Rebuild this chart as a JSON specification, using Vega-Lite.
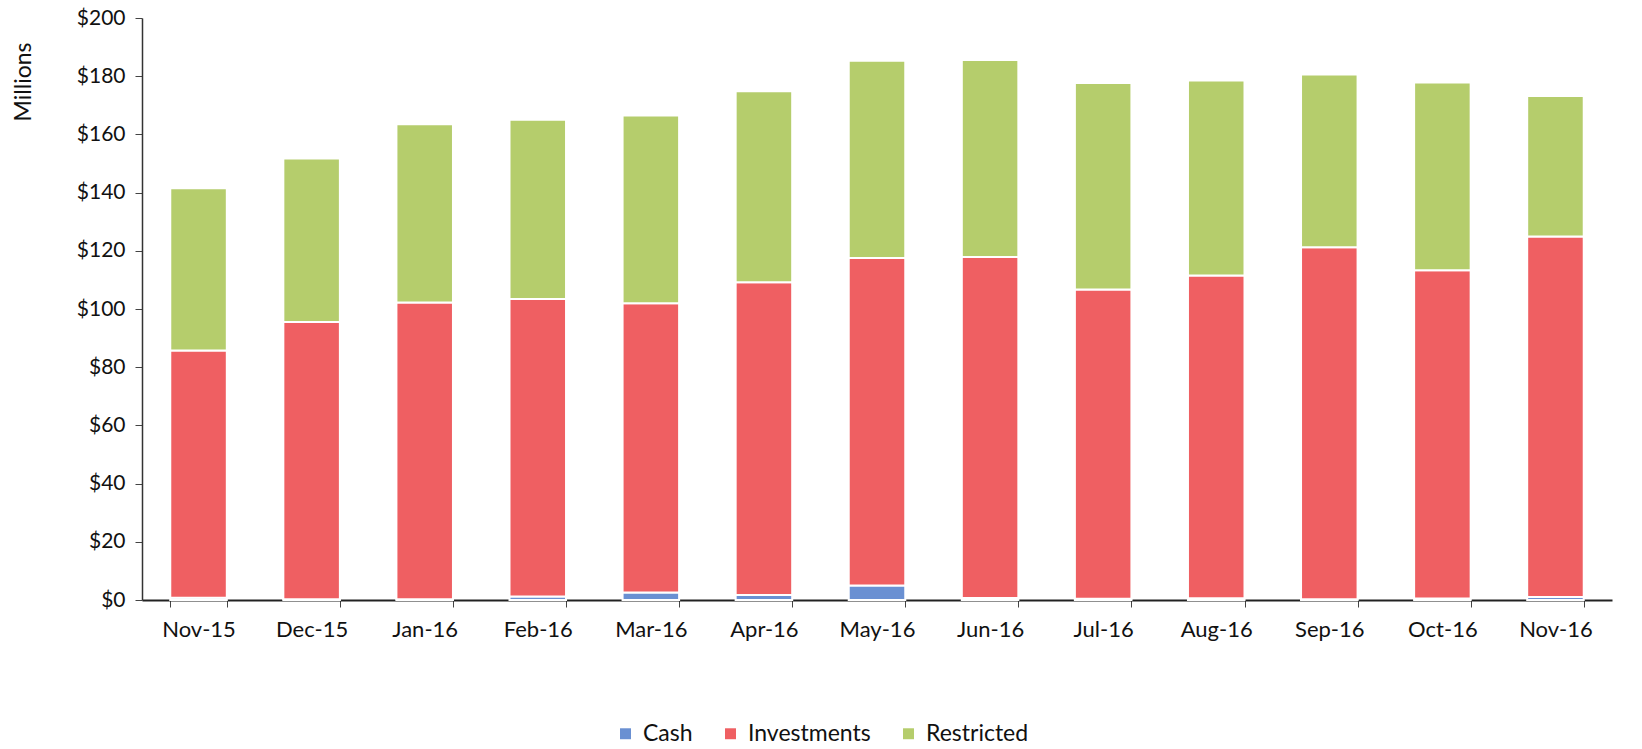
{
  "$schema": "https://vega.github.io/schema/vega-lite/v6.json",
  "width": 1470,
  "height": 582,
  "autosize": {"type": "none"},
  "padding": {"left": 142, "top": 18, "right": 30, "bottom": 149},
  "background": "white",
  "config": {
    "font": "Lato",
    "view": {"stroke": null}
  },
  "data": {
    "values": [
      {"month": "Nov-15", "category": "Cash", "value": 0.8},
      {"month": "Nov-15", "category": "Investments", "value": 84.9},
      {"month": "Nov-15", "category": "Restricted", "value": 55.8},
      {"month": "Dec-15", "category": "Cash", "value": 0.3},
      {"month": "Dec-15", "category": "Investments", "value": 95.2},
      {"month": "Dec-15", "category": "Restricted", "value": 56.2},
      {"month": "Jan-16", "category": "Cash", "value": 0.3},
      {"month": "Jan-16", "category": "Investments", "value": 101.9},
      {"month": "Jan-16", "category": "Restricted", "value": 61.3},
      {"month": "Feb-16", "category": "Cash", "value": 1.2},
      {"month": "Feb-16", "category": "Investments", "value": 102.2},
      {"month": "Feb-16", "category": "Restricted", "value": 61.6},
      {"month": "Mar-16", "category": "Cash", "value": 2.6},
      {"month": "Mar-16", "category": "Investments", "value": 99.4},
      {"month": "Mar-16", "category": "Restricted", "value": 64.5},
      {"month": "Apr-16", "category": "Cash", "value": 1.7},
      {"month": "Apr-16", "category": "Investments", "value": 107.5},
      {"month": "Apr-16", "category": "Restricted", "value": 65.6},
      {"month": "May-16", "category": "Cash", "value": 5.0},
      {"month": "May-16", "category": "Investments", "value": 112.5},
      {"month": "May-16", "category": "Restricted", "value": 67.8},
      {"month": "Jun-16", "category": "Cash", "value": 0.7},
      {"month": "Jun-16", "category": "Investments", "value": 117.2},
      {"month": "Jun-16", "category": "Restricted", "value": 67.7},
      {"month": "Jul-16", "category": "Cash", "value": 0.4},
      {"month": "Jul-16", "category": "Investments", "value": 106.3},
      {"month": "Jul-16", "category": "Restricted", "value": 71.0},
      {"month": "Aug-16", "category": "Cash", "value": 0.6},
      {"month": "Aug-16", "category": "Investments", "value": 110.9},
      {"month": "Aug-16", "category": "Restricted", "value": 67.0},
      {"month": "Sep-16", "category": "Cash", "value": 0.3},
      {"month": "Sep-16", "category": "Investments", "value": 120.9},
      {"month": "Sep-16", "category": "Restricted", "value": 59.4},
      {"month": "Oct-16", "category": "Cash", "value": 0.5},
      {"month": "Oct-16", "category": "Investments", "value": 112.8},
      {"month": "Oct-16", "category": "Restricted", "value": 64.5},
      {"month": "Nov-16", "category": "Cash", "value": 1.0},
      {"month": "Nov-16", "category": "Investments", "value": 123.9},
      {"month": "Nov-16", "category": "Restricted", "value": 48.3}
    ]
  },
  "transform": [
    {"calculate": "indexof(['Cash','Investments','Restricted'], datum.category)", "as": "stackOrder"}
  ],
  "mark": {"type": "bar", "stroke": "white", "strokeWidth": 2},
  "encoding": {
    "x": {
      "field": "month",
      "type": "nominal",
      "sort": null,
      "scale": {"paddingInner": 0.5, "paddingOuter": 0.25},
      "axis": {
        "title": null,
        "labelAngle": 0,
        "labelFontSize": 22,
        "labelColor": "#111",
        "labelPadding": 12,
        "domainColor": "#222",
        "domainWidth": 2,
        "tickColor": "#444",
        "tickBand": "extent",
        "tickSize": 7
      }
    },
    "y": {
      "field": "value",
      "type": "quantitative",
      "stack": "zero",
      "scale": {"domain": [0, 200], "nice": false},
      "axis": {
        "title": "Millions",
        "titleFontSize": 23,
        "titleFontWeight": "normal",
        "titleColor": "#111",
        "titleAnchor": "end",
        "titleY": 24,
        "titlePadding": 41,
        "values": [0, 20, 40, 60, 80, 100, 120, 140, 160, 180, 200],
        "format": "$,.0f",
        "labelFontSize": 21,
        "labelColor": "#111",
        "labelPadding": 10,
        "domainColor": "#333",
        "domainWidth": 1.5,
        "tickColor": "#444",
        "tickSize": 7,
        "grid": false
      }
    },
    "color": {
      "field": "category",
      "type": "nominal",
      "scale": {
        "domain": ["Cash", "Investments", "Restricted"],
        "range": ["#6a90d2", "#ef5f62", "#b5cd6c"]
      },
      "legend": {
        "title": null,
        "orient": "none",
        "direction": "horizontal",
        "legendX": 472,
        "legendY": 704,
        "symbolType": "square",
        "symbolSize": 120,
        "symbolStrokeWidth": 0,
        "labelFontSize": 23,
        "labelColor": "#111",
        "columnPadding": 26,
        "labelOffset": 6
      }
    },
    "order": {"field": "stackOrder", "type": "quantitative"}
  }
}
